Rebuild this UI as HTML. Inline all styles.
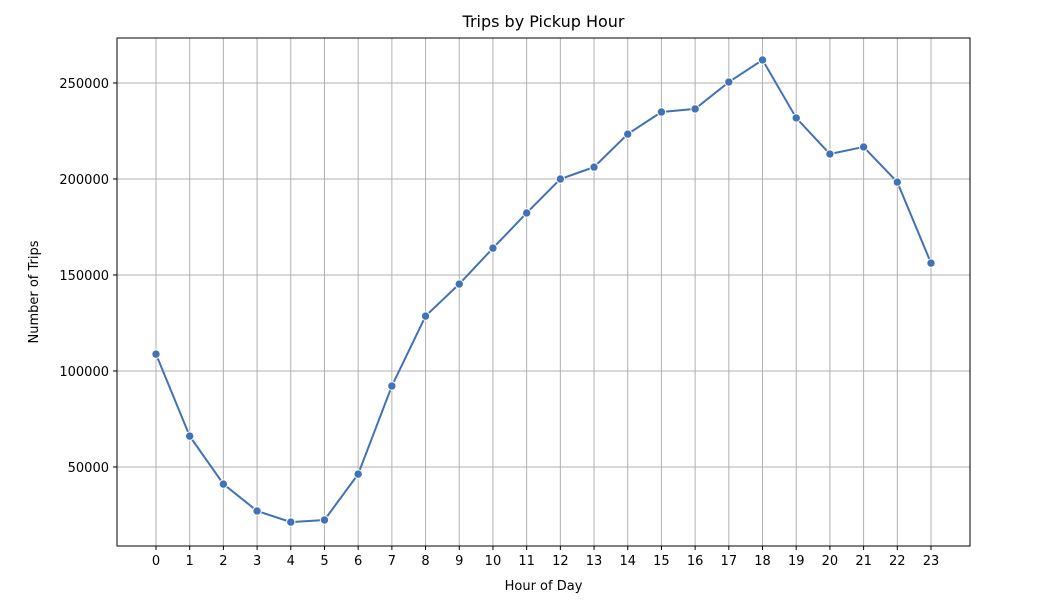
<!DOCTYPE html>
<html><head><meta charset="utf-8"><style>
body{margin:0;background:#fff;font-family:"Liberation Sans","DejaVu Sans",sans-serif;}
svg text{font-family:"DejaVu Sans","Liberation Sans",sans-serif;font-size:13px;fill:#000;}
</style></head><body>
<svg id="chart" width="1047" height="603"></svg>
<script>
const hours=[0,1,2,3,4,5,6,7,8,9,10,11,12,13,14,15,16,17,18,19,20,21,22,23];
const trips=[108800,66100,41100,27100,21300,22400,46300,92200,128600,145300,164000,182300,200000,206200,223400,234900,236500,250500,262000,231800,213000,216700,198400,156200];
const yTicks=[50000,100000,150000,200000,250000];
const L=117,R=970,T=38,B=546;
const x=h=>156+(h-0)*(931-156)/23;
const y=v=>467-(v-50000)*96/50000;
const svg=document.getElementById('chart');
const NS='http://www.w3.org/2000/svg';
function mk(tag,attrs,parent){const e=document.createElementNS(NS,tag);for(const k in attrs)e.setAttribute(k,attrs[k]);(parent||svg).appendChild(e);return e;}
const grid=mk('g',{});


hours.forEach(h=>{
  const l=mk('line',{x1:x(h),x2:x(h),y1:T,y2:B,stroke:'#b0b0b0','stroke-width':1},grid);
  
  
  const t=mk('line',{x1:x(h),x2:x(h),y1:B,y2:B+4,stroke:'#000'});
  
  
  const tx=mk('text',{x:x(h),y:B+19,'text-anchor':'middle'});tx.textContent=h;
  
  
});
yTicks.forEach(v=>{
  const l=mk('line',{x1:L,x2:R,y1:y(v),y2:y(v),stroke:'#b0b0b0','stroke-width':1},grid);
  
  
  const t=mk('line',{x1:L-4,x2:L,y1:y(v),y2:y(v),stroke:'#000'});
  
  
  const tx=mk('text',{x:L-8,y:y(v)+5,'text-anchor':'end'});tx.textContent=v;
  
  
});
const frame=mk('rect',{x:L,y:T,width:R-L,height:B-T,fill:'none',stroke:'#000','stroke-width':1});


const line=mk('polyline',{points:hours.map((h,i)=>x(h)+','+y(trips[i])).join(' '),fill:'none',stroke:'#4272b6','stroke-width':2});


hours.forEach((h,i)=>{
  const c=mk('circle',{cx:x(h),cy:y(trips[i]),r:4.2,fill:'#4272b6',stroke:'#fff','stroke-width':1});
  
  
});
const title=mk('text',{x:(L+R)/2,y:27,'text-anchor':'middle',style:'font-size:16px'});title.textContent='Trips by Pickup Hour';


const xt=mk('text',{x:(L+R)/2,y:590,'text-anchor':'middle'});xt.textContent='Hour of Day';


const yt=mk('text',{x:38,y:(T+B)/2,'text-anchor':'middle',transform:'rotate(-90 38 '+((T+B)/2)+')'});yt.textContent='Number of Trips';


</script>
</body></html>
